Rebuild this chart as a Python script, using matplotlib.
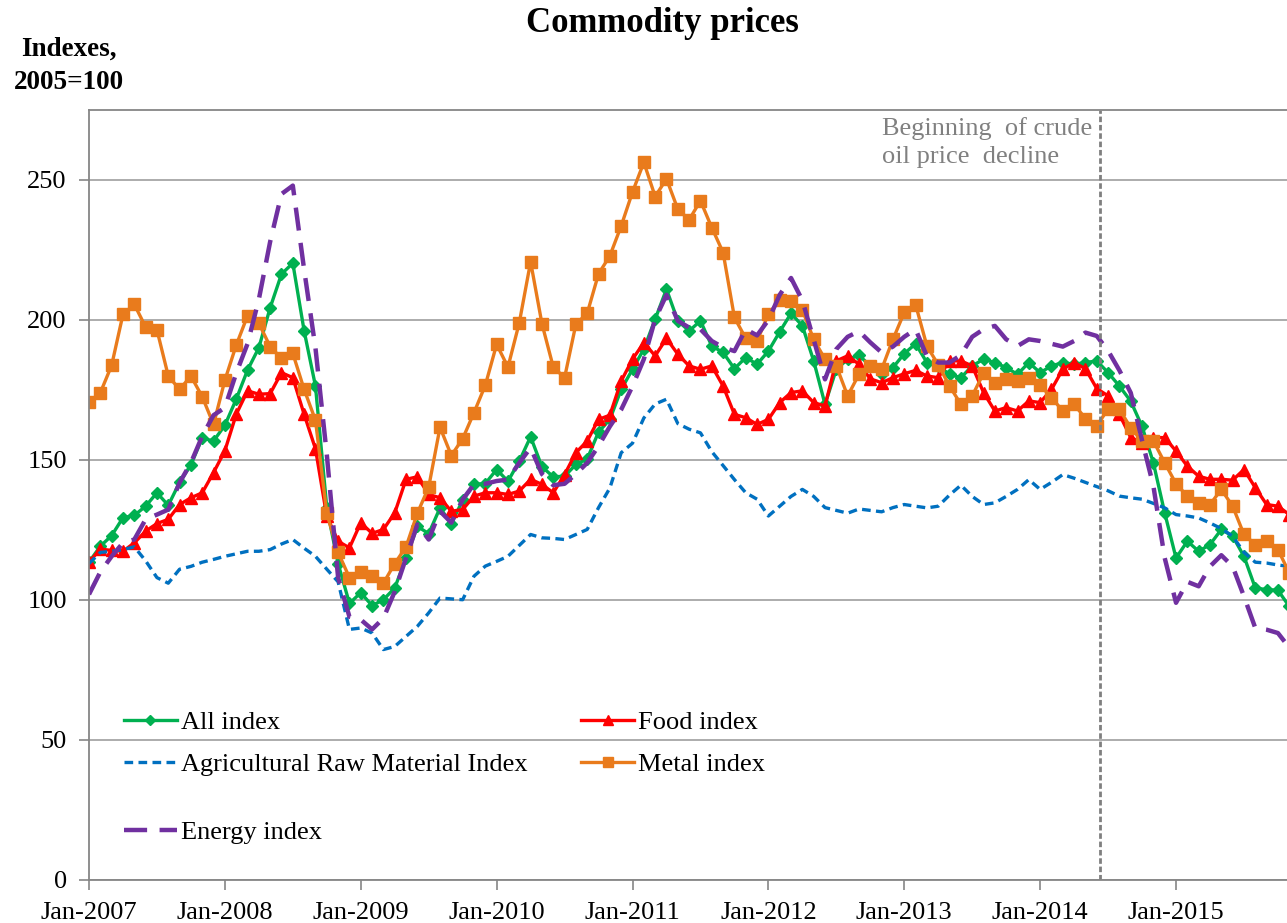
import matplotlib.pyplot as plt

plt.rcParams['font.family'] = ['Liberation Serif', 'DejaVu Serif']

# monthly values, Jan-2007 .. Nov-2015
all_index = [113.5, 119.2, 123, 129.4, 130.2, 133.5, 138.3, 133.8, 142, 148.3,
             157.8, 156.8, 162.4, 171.7, 182.1, 190.1, 204.4, 216.4, 220.3, 196.1,
             176.4, 133, 113, 98.8, 102.6, 98, 100.1, 104.3, 115, 126.3,
             123.7, 132.9, 127.3, 135.6, 141.3, 141.6, 146.6, 142.4, 149.6, 158.3,
             147.6, 144, 144.2, 148.4, 150.4, 160, 164.5, 175.2, 182.4, 189.6,
             200.3, 211, 199.7, 196.1, 199.7, 190.7, 188.4, 182.6, 186.6, 184.2,
             188.9, 195.8, 202.4, 197.9, 185.4, 169.9, 182.4, 186, 187.4, 183.6,
             180.6, 183, 188, 191.5, 184.8, 183.6, 180.6, 179.4, 183.6, 186,
             184.8, 183, 180.6, 184.8, 181.2, 183.6, 184.8, 184.2, 184.8, 185.4,
             181.2, 176.4, 171, 162, 149, 131.1, 115, 121, 117.4, 119.8,
             125.2, 122.8, 115.6, 104.3, 103.7, 103.5, 97.7]
food_index = [113.5, 118.2, 117.7, 117.4, 120.4, 124.6, 127.3, 128.8, 134.1, 136.5,
              138.3, 145.5, 153.3, 166.3, 174.7, 173.5, 173.7, 181.2, 179.4, 166.3,
              154, 129.9, 121, 118.6, 127.6, 123.8, 125.2, 131.1, 143.1, 144,
              137.7, 136.5, 131.7, 132.3, 137.1, 138.3, 138.3, 137.7, 138.9, 143.1,
              141.3, 138.3, 144.8, 152.6, 156.8, 164.5, 166, 178.2, 186, 191.9,
              187.2, 193.4, 187.8, 183.6, 182.4, 183.6, 176.4, 166.3, 165.1, 162.7,
              164.5, 170.5, 174.1, 174.7, 170.5, 169.3, 185.4, 187.2, 184.2, 179,
              177.6, 179.4, 180.8, 182, 180, 179.4, 185.4, 185.4, 183.6, 174.1,
              167.5, 168.7, 167.5, 171.1, 170.5, 175.2, 182.4, 184.8, 182.6, 175.5,
              172.9, 166.3, 158, 156.2, 158, 158, 153.2, 147.8, 144.2, 143.1,
              143.1, 142.8, 146.6, 140.1, 134.1, 133.5, 130.5]
agri_index = [113, 117, 117.4, 118, 119, 114, 108, 106, 111, 112,
              113.5, 114.5, 115.6, 116.5, 117.4, 117.4, 118, 120, 121.6, 118.5,
              115.6, 111, 106.5, 89.5, 90, 88.2, 82.3, 83.4, 87, 90.6,
              95.4, 100.7, 100.4, 100.1, 108.5, 112.1, 113.8, 115.6, 119.5, 123.4,
              122.2, 122, 121.6, 123.4, 125.2, 133, 140, 152.6, 156, 165,
              170, 171.7, 163, 161, 159.7, 153, 148, 143, 138.3, 136,
              130, 133.5, 137, 139.5, 137, 133, 132, 131, 132.5, 132,
              131.5, 133, 134.1, 133.5, 132.9, 133.5, 137.5, 141, 137, 134.1,
              134.7, 137, 139.5, 143, 139.5, 142, 144.8, 143.5, 142, 140.5,
              139, 137.1, 136.5, 136, 134.5, 132.9, 130.5, 130, 129.3, 127.5,
              125.5, 122.8, 117, 113.5, 113.2, 112.5, 112]
metal_index = [170.7, 174, 183.8, 202, 205.6, 197.5, 196.5, 180, 175.2, 180,
               172.6, 162.7, 178.5, 191, 201.5, 198.8, 190.5, 186.3, 188.1, 175.2,
               164.2, 131, 117, 108, 110, 108.5, 106, 113, 119, 131,
               140.3, 161.7, 151.6, 157.6, 166.9, 176.7, 191.3, 183.2, 199, 220.8,
               198.7, 183.2, 179.4, 198.5, 202.4, 216.5, 222.9, 233.6, 245.7, 256.3,
               244.1, 250.4, 239.6, 235.8, 242.6, 233, 224.1, 200.9, 193.4, 192.5,
               202.1, 207.1, 206.8, 203.6, 193.1, 186, 183.6, 172.9, 180.6, 183.6,
               182.4, 193.1, 202.7, 205.5, 190.7, 184, 176.4, 169.9, 172.9, 181,
               177.6, 178.8, 178.2, 179.4, 176.7, 172.3, 167.5, 169.9, 164.8, 162.1,
               168.3, 168.1, 161.5, 156.8, 156.8, 149, 141.5, 137.1, 134.7, 134.1,
               139.5, 133.5, 123.4, 119.8, 121, 118, 109.7]
energy_index = [102, 110, 115.6, 120.4, 121.6, 128.8, 130.5, 132.3, 141.9, 149,
                158.5, 166, 168.7, 181, 191.5, 207.4, 228, 245, 248, 218,
                190, 152, 108, 94, 93, 89.5, 93.5, 103, 115, 127,
                121.6, 131.7, 127.6, 135.9, 141.3, 141.5, 142.5, 143, 149, 154.4,
                145, 141, 141.5, 145, 149, 155, 162, 168, 176.4, 186,
                200.3, 209, 199.7, 197.3, 196.7, 192.5, 190.2, 188.9, 196.7, 194.5,
                200, 209, 215, 207, 193, 178.8, 189.6, 194, 196, 192,
                188.4, 190.5, 194, 196.7, 187, 184.8, 184.8, 187.5, 194, 196.7,
                197.9, 193.1, 190.7, 193.1, 192.5, 191.5, 190.5, 192.5, 195.5, 194.3,
                189, 182, 174, 157, 140.7, 115, 99, 106.5, 104.9, 112,
                116, 112, 101.3, 90, 89.4, 88.2, 83]

tick_pos = [0, 12, 24, 36, 48, 60, 72, 84, 96]
tick_labels = ['Jan-2007', 'Jan-2008', 'Jan-2009', 'Jan-2010', 'Jan-2011',
               'Jan-2012', 'Jan-2013', 'Jan-2014', 'Jan-2015']
oil_decline = 89.3  # Jun-2014

months = list(range(len(all_index)))

fig = plt.figure(figsize=(12.87, 9.23), dpi=100)
ax = fig.add_axes([89 / 1287, 1 - 880 / 923, 1 - 89 / 1287, (880 - 110) / 923])

l_all, = ax.plot(months, all_index, color='#00B050', lw=2.4, marker='D', ms=6.5,
                 label='All index')
l_food, = ax.plot(months, food_index, color='#FF0000', lw=2.4, marker='^', ms=8,
                  label='Food index')
l_agri, = ax.plot(months, agri_index, color='#0070C0', lw=2.4, ls=(0, (2.6, 1.6)),
                  label='Agricultural Raw Material Index')
l_metal, = ax.plot(months, metal_index, color='#E97B1C', lw=2.4, marker='s', ms=8,
                   label='Metal index')
l_energy, = ax.plot(months, energy_index, color='#7030A0', lw=3.2, ls=(0, (5.2, 2.8)),
                    label='Energy index')

ax.axvline(oil_decline, color='#7F7F7F', lw=2, ls=(0, (2, 1)))
ax.text(70.0, 272.5, 'Beginning  of crude\noil price  decline', color='#808080',
        fontsize=19, ha='left', va='top', linespacing=1.35)

ax.set_xlim(0, 105.8)
ax.set_ylim(0, 275)
ax.set_yticks([0, 50, 100, 150, 200, 250])
ax.set_xticks(tick_pos)
ax.set_xticklabels(tick_labels)
ax.tick_params(axis='both', labelsize=19, colors='#000000', length=7, width=1.2,
               color='#868686', direction='out')
ax.tick_params(axis='x', pad=9)
ax.tick_params(axis='y', pad=9)
ax.grid(axis='y', color='#A6A6A6', lw=1.3)
ax.set_axisbelow(True)
for side in ['left', 'bottom', 'top']:
    ax.spines[side].set_color('#868686')
    ax.spines[side].set_linewidth(1.3)
ax.spines['right'].set_visible(False)

leg1 = ax.legend([l_all, l_agri, l_food, l_metal],
                 [l_all.get_label(), l_agri.get_label(), l_food.get_label(), l_metal.get_label()],
                 ncol=2, loc='upper left', bbox_to_anchor=(124 / 1287, 1 - 711 / 923),
                 bbox_transform=fig.transFigure, frameon=False, fontsize=19,
                 borderpad=0, borderaxespad=0, handlelength=2.0, handletextpad=0.15,
                 columnspacing=2.05, labelspacing=0.68, markerscale=0.85)
ax.add_artist(leg1)
ax.legend([l_energy], [l_energy.get_label()], loc='upper left',
          bbox_to_anchor=(124 / 1287, 1 - 821 / 923), bbox_transform=fig.transFigure,
          frameon=False, fontsize=19, borderpad=0, borderaxespad=0,
          handlelength=2.0, handletextpad=0.15)

fig.text(662 / 1287, 1 - 24 / 923, 'Commodity prices', fontsize=25, fontweight='bold',
         ha='center', va='center')
fig.text(69 / 1287, 1 - 66 / 923, 'Indexes,\n2005=100', fontsize=19.5, fontweight='bold',
         ha='center', va='center', multialignment='center', linespacing=1.43)

fig.savefig('out.png', dpi=100)
